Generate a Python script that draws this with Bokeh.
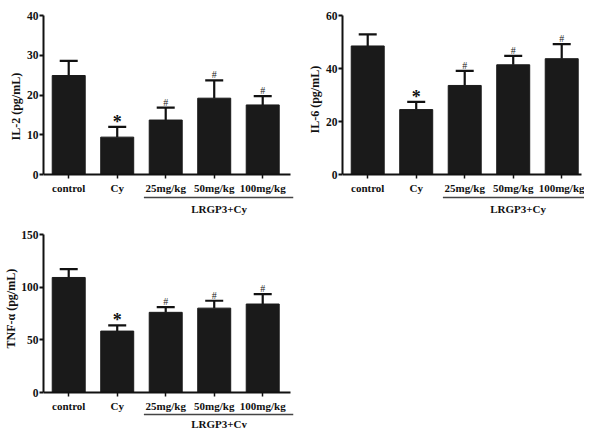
import numpy as np
from bokeh.plotting import figure
from bokeh.models import Range1d, FixedTicker, ColumnDataSource, Whisker, TeeHead, Title
from bokeh.layouts import column, row
from bokeh.embed import file_html
from bokeh.resources import INLINE
from bokeh.core.properties import value

# ---------------- data ----------------
groups = ["control", "Cy", "25mg/kg", "50mg/kg", "100mg/kg"]
group_label = "LRGP3+Cy"
marks = ["", "*", "#", "#", "#"]

il2_mean = [24.9, 9.4, 13.7, 19.2, 17.5]
il2_err = [3.7, 2.6, 3.1, 4.5, 2.2]

il6_mean = [48.5, 24.5, 33.6, 41.4, 43.7]
il6_err = [4.4, 2.9, 5.5, 3.4, 5.5]

tnf_mean = [109.2, 58.3, 76.1, 80.1, 84.0]
tnf_err = [8.0, 5.5, 4.9, 7.0, 9.3]

FONT = "Liberation Serif"
BAR = "#1a1a1a"


def panel(mean, err, ymax, ystep, ylabel, width, height,
          b_left, b_top, b_right, b_bottom, zero_below,
          bracket_px=23, glabel_px=34, ylab_offset=76):
    frame_h = height - b_top - b_bottom
    ppu = (frame_h - zero_below) / ymax
    y_start = -zero_below / ppu
    frame_w = width - b_left - b_right
    spacing_px = 48.5
    x_start = -0.52
    x_end = x_start + frame_w / spacing_px

    p = figure(width=width, height=height, output_backend="svg",
               toolbar_location=None, x_range=Range1d(x_start, x_end),
               y_range=Range1d(y_start, ymax),
               min_border_left=b_left, min_border_right=b_right,
               min_border_top=b_top, min_border_bottom=b_bottom)
    p.outline_line_color = None
    p.grid.visible = False
    p.background_fill_color = "white"
    p.border_fill_color = "white"

    x = list(range(len(groups)))
    top = [m + e for m, e in zip(mean, err)]
    src = ColumnDataSource(dict(x=x, mean=mean, top=top, err=err))

    p.vbar(x="x", top="mean", bottom=0, width=0.68, source=src,
           fill_color=BAR, line_color=BAR)
    w = Whisker(base="x", lower="mean", upper="top", source=src,
                dimension="height", line_color="#111111", line_width=2.2,
                lower_head=None,
                upper_head=TeeHead(size=18, line_color="#111111", line_width=2.2))
    p.add_layout(w)

    sx = [xi for xi, m in zip(x, marks) if m == "*"]
    sy = [t for t, m in zip(top, marks) if m == "*"]
    hx = [xi for xi, m in zip(x, marks) if m == "#"]
    hy = [t for t, m in zip(top, marks) if m == "#"]
    p.text(x=sx, y=sy, text=["*"] * len(sx), text_align="center",
           text_baseline="bottom", y_offset=5, text_font=value(FONT),
           text_font_size="18px", text_font_style="bold", text_color="#111111")
    p.text(x=hx, y=hy, text=["#"] * len(hx), text_align="center",
           text_baseline="bottom", y_offset=0, text_font=value(FONT),
           text_font_size="10px", text_color="#222222")

    # group bracket and label
    bx0 = 1.55
    bx1 = x_end
    by = -bracket_px / ppu
    p.segment(x0=[bx0], y0=[by], x1=[bx1], y1=[by], line_color="#444444",
              line_width=1.3)
    p.text(x=[3.1], y=[-glabel_px / ppu], text=[group_label],
           text_align="center", text_baseline="middle", text_font=value(FONT),
           text_font_size="11px", text_font_style="bold", text_color="#111111")

    # y axis
    ya = p.yaxis[0]
    ya.ticker = FixedTicker(ticks=list(range(0, ymax + 1, ystep)))
    ya.bounds = (0, ymax)
    ya.axis_line_width = 2
    ya.axis_line_color = "#111111"
    ya.major_tick_line_width = 2
    ya.major_tick_line_color = "#111111"
    ya.major_tick_out = 4
    ya.major_tick_in = 0
    ya.minor_tick_out = 0
    ya.minor_tick_in = 0
    ya.major_label_standoff = 1
    ya.major_label_text_font = FONT
    ya.major_label_text_font_style = "bold"
    ya.major_label_text_font_size = "11.5px"
    ya.major_label_text_color = "#111111"

    # y axis title as a side title (positioned along the axis)
    t = Title(text=ylabel, align="left", offset=ylab_offset,
              text_font=FONT, text_font_style="bold",
              text_font_size="12px", text_color="#111111", standoff=2)
    p.add_layout(t, "left")

    # x axis at y = 0
    xa = p.xaxis[0]
    xa.fixed_location = 0
    xa.ticker = FixedTicker(ticks=x)
    xa.major_label_overrides = {i: g for i, g in zip(x, groups)}
    xa.bounds = (x_start, x_end - 0.06)
    xa.axis_line_width = 2
    xa.axis_line_color = "#111111"
    xa.major_tick_line_width = 1.5
    xa.major_tick_line_color = "#111111"
    xa.major_tick_out = 4
    xa.major_tick_in = 0
    xa.minor_tick_out = 0
    xa.minor_tick_in = 0
    xa.major_label_standoff = 3
    xa.major_label_text_font = FONT
    xa.major_label_text_font_style = "bold"
    xa.major_label_text_font_size = "11px"
    xa.major_label_text_color = "#111111"
    return p


p1 = panel(il2_mean, il2_err, 40, 10, "IL-2  (pg/mL)", 300, 220,
           43, 15, 7, 4, 42, ylab_offset=76)
p2 = panel(il6_mean, il6_err, 60, 20, "IL-6 (pg/mL)", 284, 220,
           42, 15, 0, 4, 42, ylab_offset=83)
p3 = panel(tnf_mean, tnf_err, 150, 50, "TNF-\u03b1 (pg/mL)", 300, 208,
           43, 14, 7, 0, 36, bracket_px=22, glabel_px=31, ylab_offset=80)

layout = column(row(p1, p2), p3)
open("out.html", "w").write(file_html(layout, INLINE))
